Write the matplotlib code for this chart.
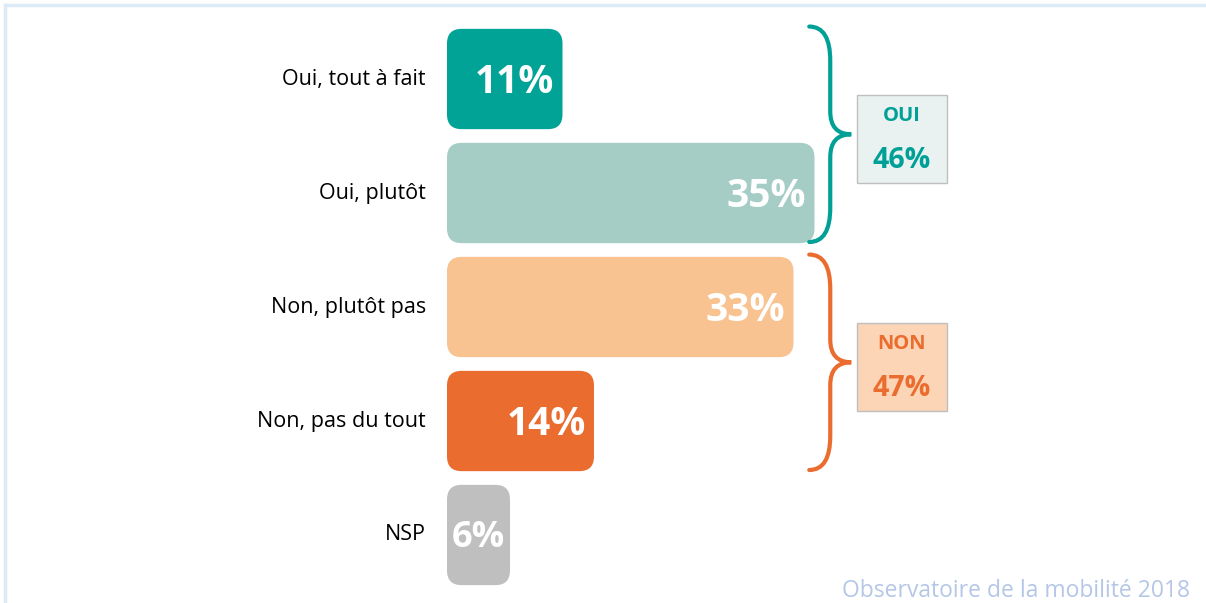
import matplotlib.pyplot as plt
from matplotlib.patches import FancyBboxPatch, PathPatch, Rectangle
from matplotlib.path import Path

plt.rcParams['font.family'] = ['Open Sans', 'DejaVu Sans']

categories = ['Oui, tout à fait', 'Oui, plutôt', 'Non, plutôt pas', 'Non, pas du tout', 'NSP']
values = [11, 35, 33, 14, 6]
bar_colors = ['#00A396', '#A6CCC6', '#F8C291', '#EB6C2F', '#BFBFBF']

groups = ['OUI', 'NON']
group_members = [[0, 1], [2, 3]]
group_colors = ['#00A096', '#EB6C2F']
group_fills = ['#E9F2F1', '#FBD5B5']

source = 'Observatoire de la mobilité 2018'

W, H = 1206, 603
X0 = 447          # pixel where 0 % sits
PX_X = 10.5       # pixels per percent
Y0, PX_Y = 79, 114  # pixel centre of first bar, pixels per row

fig = plt.figure(figsize=(W / 100, H / 100), dpi=100)
ax = fig.add_axes([0, 0, 1, 1])
ax.set_xlim(-X0 / PX_X, (W - X0) / PX_X)
ax.set_ylim((H - Y0) / PX_Y, -Y0 / PX_Y)
ax.axis('off')

aspect = PX_X / PX_Y  # y units per x unit for equal pixel length

# bars
for i, (v, c) in enumerate(zip(values, bar_colors)):
    ax.add_patch(FancyBboxPatch((0, i - 0.44), v, 0.88,
                                boxstyle='round,pad=0,rounding_size=1.4',
                                mutation_aspect=aspect, fc=c, ec='none'))
    if v < 8:  # short bar: centre the label so it stays inside
        ax.text(v / 2, i + 0.03, f'{v}%', ha='center', va='center', color='white',
                fontsize=26, fontweight='bold')
    else:
        ax.text(v - 0.8, i + 0.03, f'{v}%', ha='right', va='center', color='white',
                fontsize=28, fontweight='bold')
    ax.text(-2.0, i, categories[i], ha='right', va='center', color='black',
            fontsize=15.5)


def brace(y_top, y_bot, color, x_end=34.5, x_spine=36.5, x_tip=38.5):
    ym = (y_top + y_bot) / 2
    r1, r2 = 0.3, 0.2
    verts = [(x_end, y_top), (x_spine, y_top), (x_spine, y_top + r1),
             (x_spine, ym - r2), (x_spine, ym), (x_tip, ym),
             (x_spine, ym), (x_spine, ym + r2),
             (x_spine, y_bot - r1), (x_spine, y_bot), (x_end, y_bot)]
    codes = [Path.MOVETO, Path.CURVE3, Path.CURVE3,
             Path.LINETO, Path.CURVE3, Path.CURVE3,
             Path.CURVE3, Path.CURVE3,
             Path.LINETO, Path.CURVE3, Path.CURVE3]
    ax.add_patch(PathPatch(Path(verts, codes), fc='none', ec=color, lw=3,
                           capstyle='round'))
    return ym


for name, members, col, fill in zip(groups, group_members, group_colors, group_fills):
    y_top = members[0] - 0.46
    y_bot = members[-1] + 0.43
    ym = brace(y_top, y_bot, col)
    total = sum(values[m] for m in members)
    yc = ym + 0.04
    ax.add_patch(Rectangle((39.0, yc - 0.385), 8.6, 0.77, fc=fill, ec='#BFBFBF', lw=1))
    ax.text(43.3, yc - 0.2, name, ha='center', va='center', color=col,
            fontsize=14.5, fontweight='bold')
    ax.text(43.3, yc + 0.19, f'{total}%', ha='center', va='center', color=col,
            fontsize=20.5, fontweight='bold')

# frame lines and source
ov = fig.add_axes([0, 0, 1, 1], facecolor='none')
ov.set_xlim(0, W)
ov.set_ylim(H, 0)
ov.axis('off')
ov.plot([5, W], [5, 5], color='#DDEBF7', lw=2.5)
ov.plot([5, 5], [5, H], color='#DDEBF7', lw=2.5)
ov.text(1190, 597, source, ha='right', va='baseline', color='#B4C7E7', fontsize=16.5)

fig.savefig('out.png', dpi=100)
